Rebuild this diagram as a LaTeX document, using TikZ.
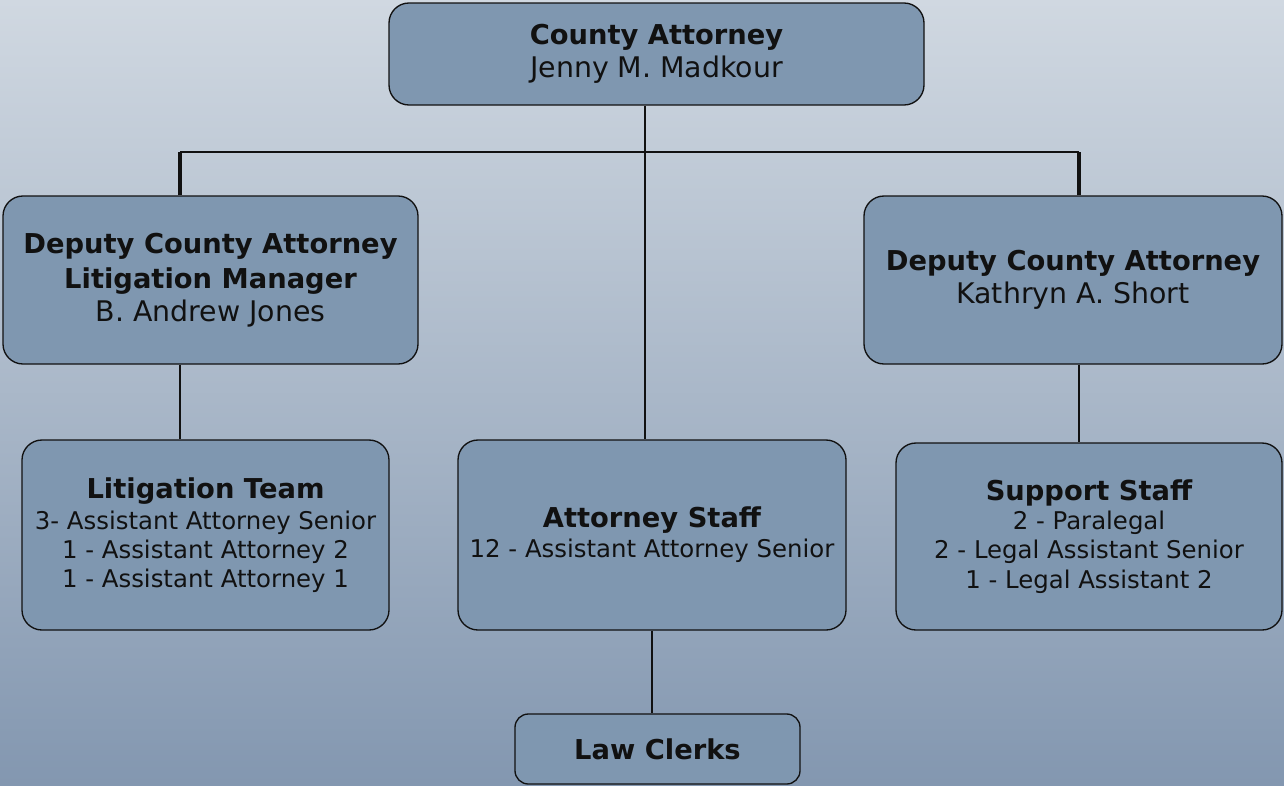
\documentclass[tikz,border=0pt]{standalone}
\usepackage{fontspec}
\setmainfont{DejaVu Sans}
\usetikzlibrary{calc}
\definecolor{bgtop}{HTML}{D0D8E1}
\definecolor{bgbot}{HTML}{8397B0}
\definecolor{boxfill}{HTML}{7F97B0}
\definecolor{ink}{HTML}{111111}
\tikzset{
  orgbox/.style={draw=ink, line width=1pt, fill=boxfill, rounded corners=15pt,
    inner sep=0pt, align=center, text=ink},
  bigtext/.style={font=\fontsize{20.5}{24.75}\selectfont},
  listtext/.style={font=\fontsize{18.3}{21.9}\selectfont},
  thinline/.style={draw=ink, line width=0.9pt},
  barline/.style={draw=ink, line width=1.6pt},
  barvert/.style={draw=ink, line width=2.4pt},
}
\newcommand{\ttl}[1]{{\fontsize{20.5}{24.75}\selectfont\bfseries #1}}
\newcommand{\nm}[1]{{\fontsize{21.3}{24.75}\selectfont #1}}
\newcommand{\sml}[1]{{\fontsize{18.3}{21.9}\selectfont #1}}
\begin{document}
\begin{tikzpicture}[x=0.75pt,y=-0.75pt]
\useasboundingbox (0,0) rectangle (1284,785);
\shade[top color=bgtop, bottom color=bgbot] (0,0) rectangle (1284,785);

\node[orgbox, bigtext, minimum width=401.25pt, minimum height=76.5pt] (top) at (656.5,54)
  {\ttl{County Attorney}\\\nm{Jenny M. Madkour}};
\node[orgbox, bigtext, minimum width=311.25pt, minimum height=126pt] (depL) at (210.5,280)
  {\ttl{Deputy County Attorney}\\[1.3pt]\ttl{Litigation Manager}\\\nm{B. Andrew Jones}};
\node[orgbox, bigtext, minimum width=313.5pt, minimum height=126pt] (depR) at (1073,280)
  {\ttl{Deputy County Attorney}\\\nm{Kathryn A. Short}};
\node[orgbox, listtext, minimum width=275.25pt, minimum height=142.5pt] (lit) at (205.5,535)
  {\ttl{Litigation Team}\\[1.3pt]\sml{3- Assistant Attorney Senior}\\\sml{1 - Assistant Attorney 2}\\\sml{1 - Assistant Attorney 1}};
\node[orgbox, listtext, minimum width=291pt, minimum height=142.5pt] (staff) at (652,535)
  {\ttl{Attorney Staff}\\[0.6pt]\sml{12 - Assistant Attorney Senior}};
\node[orgbox, listtext, minimum width=289.5pt, minimum height=140.25pt] (sup) at (1089,536.5)
  {\ttl{Support Staff}\\\sml{2 - Paralegal}\\\sml{2 - Legal Assistant Senior}\\\sml{1 - Legal Assistant 2}};
\node[orgbox, bigtext, rounded corners=10pt, minimum width=213.75pt, minimum height=52.5pt] (clerks) at (657.5,749)
  {\ttl{Law Clerks}};

\coordinate (xc) at (645,0);
\coordinate (xl) at (180,0);
\coordinate (xr) at (1079,0);
\coordinate (xs) at (652,0);
\coordinate (bar) at (0,152);

\draw[thinline] (top.south -| xc) -- (staff.north -| xc);
\draw[barline] (bar -| xl) -- (bar -| xr);
\draw[barvert] (depL.north -| xl) -- (bar -| xl);
\draw[barvert] (depR.north -| xr) -- (bar -| xr);
\draw[thinline] (depL.south -| xl) -- (lit.north -| xl);
\draw[thinline] (depR.south -| xr) -- (sup.north -| xr);
\draw[thinline] (staff.south -| xs) -- (clerks.north -| xs);
\end{tikzpicture}
\end{document}
